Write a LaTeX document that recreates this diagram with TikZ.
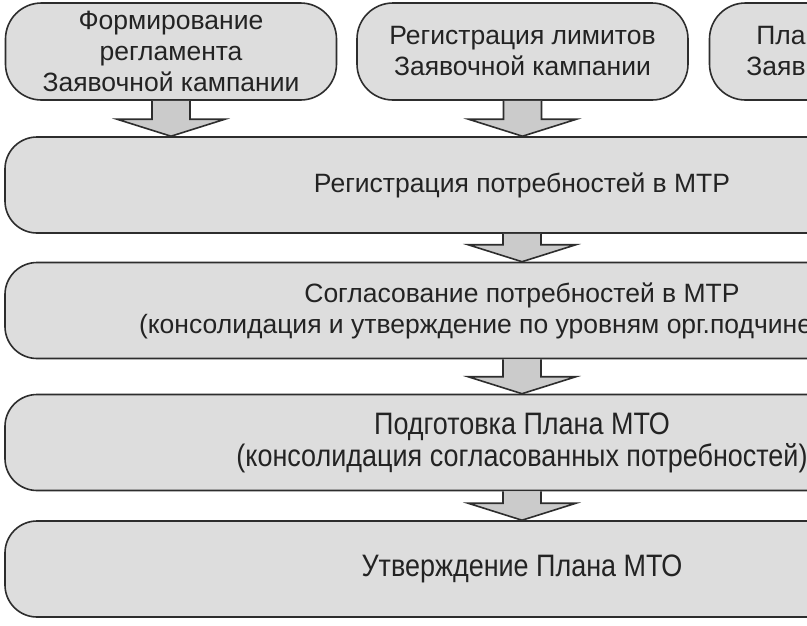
\documentclass[tikz,border=0pt]{standalone}
\usepackage{fontspec}
\setmainfont{Liberation Sans}
\newfontfamily\narrowfont[FakeStretch=0.87]{Liberation Sans}
\usetikzlibrary{calc}

\definecolor{boxgray}{RGB}{221,221,221}
\definecolor{edgegray}{RGB}{45,45,45}
\definecolor{txtgray}{RGB}{35,35,35}

\tikzset{
  stagebox/.style={draw=edgegray, fill=boxgray, line width=1.6pt, rounded corners=32pt,
    minimum height=96pt, inner sep=0pt, align=center, text=txtgray,
    font=\fontsize{26.5}{31}\selectfont},
  topbox/.style={stagebox, minimum width=331pt, minimum height=97pt, rounded corners=36pt},
  widebox/.style={stagebox, minimum width=1034pt},
  narrowtxt/.style={font=\narrowfont\fontsize{31}{32}\selectfont},
  blockarrow/.style={draw=edgegray, fill=boxgray!92!black, line width=1.6pt, line join=miter}
}

\begin{document}
\begin{tikzpicture}[x=1pt, y=-1pt]
    % frame of the cut-out, the boxes run on past the right edge
    \fill[white] (0,0) rectangle (807,625);
    \useasboundingbox (0,0) rectangle (807,625);
    \clip (0,0) rectangle (807,625);

    % top row
    \node[topbox] (form) at (171,51.5) {Формирование\\регламента\\Заявочной кампании};
    \node[topbox] (limits) at (522.5,51.5) {Регистрация лимитов\\Заявочной кампании};
    \node[topbox, align=left] (plan) at (875,51.5) {\hspace*{10pt}Пла\\Заяв\phantom{очной кампании}};

    % main stages
    \node[widebox] (needs) at (522,185) {Регистрация потребностей в МТР};
    \node[widebox] (agree) at (522,310.5)
        {Согласование потребностей в МТР\\(консолидация и утверждение по уровням орг.подчине\phantom{нности)}};
    \node[widebox, narrowtxt] (prep) at (522,442.5)
        {Подготовка Плана МТО\\(консолидация согласованных потребностей)};
    \node[widebox, narrowtxt] (approve) at (522,569) {Утверждение Плана МТО};

    % block arrows: shaft 38, head 108 wide and 17 long
    \foreach \up/\down in {form/needs, limits/needs, needs/agree, agree/prep, prep/approve}
        \filldraw[blockarrow] let \p1=(\up.south), \p2=(\down.north) in
            (\x1-19pt,\y1) -- (\x1-19pt,\y2+17pt) -- (\x1-54pt,\y2+17pt) -- (\x1,\y2)
            -- (\x1+54pt,\y2+17pt) -- (\x1+19pt,\y2+17pt) -- (\x1+19pt,\y1);
\end{tikzpicture}
\end{document}
